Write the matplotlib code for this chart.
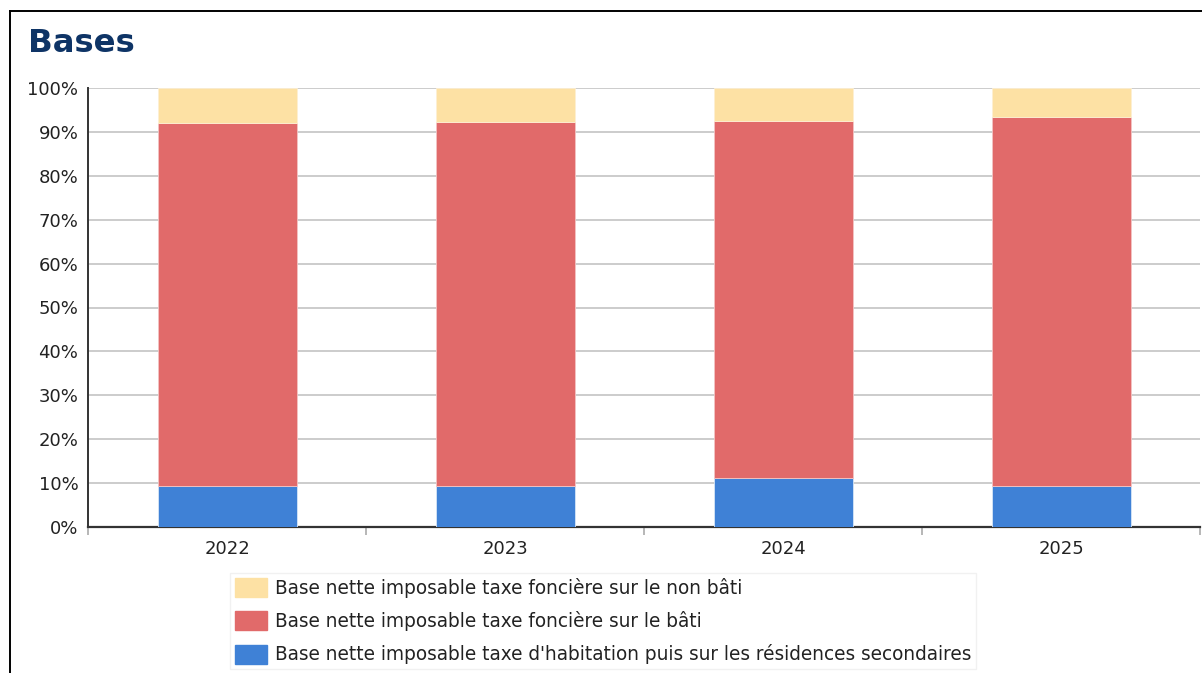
import matplotlib
matplotlib.use("Agg")
import matplotlib.pyplot as plt
from matplotlib.patches import Patch
from matplotlib.lines import Line2D
from matplotlib.ticker import FuncFormatter, MultipleLocator, FixedLocator

plt.rcParams['font.family'] = ['DejaVu Sans']

years = ["2022", "2023", "2024", "2025"]
# Shares of each tax base, in percent of the total
habitation = [9.35, 9.4, 11.1, 9.4]
foncier_bati = [82.65, 82.85, 81.45, 83.9]
foncier_non_bati = [8.0, 7.75, 7.45, 6.7]

labels = [
    "Base nette imposable taxe foncière sur le non bâti",
    "Base nette imposable taxe foncière sur le bâti",
    "Base nette imposable taxe d'habitation puis sur les résidences secondaires",
]
colors = ["#fde1a4", "#e16a6a", "#3f81d6"]

W, H = 1202, 673
fig = plt.figure(figsize=(W / 100, H / 100), dpi=100)

ax = fig.add_axes([88 / W, (H - 527) / H, 1112 / W, (527 - 88) / H])

x = list(range(len(years)))
width = 0.5
ax.bar(x, habitation, width, color=colors[2], edgecolor="#d7e6f7", linewidth=0.6, zorder=3)
bottom2 = [h for h in habitation]
ax.bar(x, foncier_bati, width, bottom=bottom2, color=colors[1], edgecolor="#f3c4c4", linewidth=0.6, zorder=3)
bottom3 = [h + b for h, b in zip(habitation, foncier_bati)]
ax.bar(x, foncier_non_bati, width, bottom=bottom3, color=colors[0], edgecolor="#fdf0d3", linewidth=0.6, zorder=3)

ax.set_xlim(-0.5, len(years) - 0.5)
ax.set_ylim(0, 100)
ax.yaxis.set_major_locator(MultipleLocator(10))
ax.yaxis.set_major_formatter(FuncFormatter(lambda v, p: f"{v:.0f}%"))
ax.grid(axis="y", color="#c8c8c8", linewidth=1.3, zorder=0)
ax.set_axisbelow(True)

ax.set_xticks(x)
ax.set_xticklabels(years)
ax.xaxis.set_minor_locator(FixedLocator([i - 0.5 for i in range(len(years) + 1)]))
ax.tick_params(axis="x", which="major", length=0, pad=9, labelsize=13, labelcolor="#222222")
ax.tick_params(axis="x", which="minor", length=6, width=1.2, color="#aaaaaa")
ax.tick_params(axis="y", length=0, pad=7, labelsize=13, labelcolor="#222222")

for s in ["top", "right"]:
    ax.spines[s].set_visible(False)
ax.spines["left"].set_color("#333333")
ax.spines["left"].set_linewidth(1.4)
ax.spines["bottom"].set_color("#333333")
ax.spines["bottom"].set_linewidth(1.6)

fig.text(28 / W, 1 - 44 / H, "Bases", fontsize=23.3, fontweight="bold", color="#0e3466",
         va="center", ha="left")

handles = [Patch(facecolor=c, edgecolor=c) for c in colors]
leg = fig.legend(handles, labels, loc="upper left", bbox_to_anchor=(230 / W, 1 - 573 / H),
                 frameon=True, fancybox=False, edgecolor="#eeeeee", fontsize=13.35,
                 handlelength=1.75, handleheight=1.2, handletextpad=0.45, labelspacing=0.72,
                 borderpad=0.25, borderaxespad=0)
for t in leg.get_texts():
    t.set_color("#222222")

# outer border along the top and left edges
fig.add_artist(Line2D([10 / W, 1.0], [1 - 11 / H, 1 - 11 / H], color="black", linewidth=1.4,
                      transform=fig.transFigure))
fig.add_artist(Line2D([10 / W, 10 / W], [0, 1 - 11 / H], color="black", linewidth=1.4,
                      transform=fig.transFigure))

fig.savefig("out.png", dpi=100)
